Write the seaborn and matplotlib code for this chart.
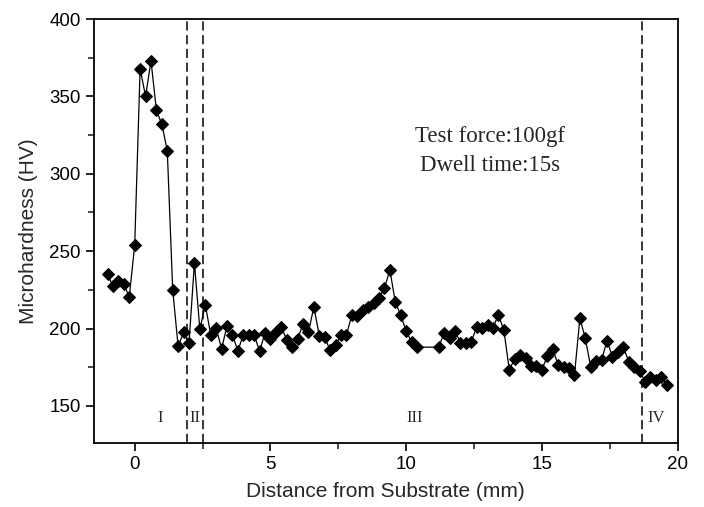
import matplotlib
matplotlib.use("Agg")
import matplotlib.pyplot as plt
from matplotlib.ticker import MultipleLocator
import seaborn as sns
import pandas as pd

distance_mm = [-1.0, -0.8, -0.6, -0.4, -0.2, 0.0, 0.2, 0.4, 0.6, 0.8,
               1.0, 1.2, 1.4, 1.6, 1.8, 2.0, 2.2, 2.4, 2.6, 2.8,
               3.0, 3.2, 3.4, 3.6, 3.8, 4.0, 4.2, 4.4, 4.6, 4.8,
               5.0, 5.2, 5.4, 5.6, 5.8, 6.0, 6.2, 6.4, 6.6, 6.8,
               7.0, 7.2, 7.4, 7.6, 7.8, 8.0, 8.2, 8.4, 8.6, 8.8,
               9.0, 9.2, 9.4, 9.6, 9.8, 10.0, 10.2, 10.4,
               11.2, 11.4, 11.6, 11.8, 12.0, 12.2, 12.4, 12.6, 12.8, 13.0,
               13.2, 13.4, 13.6, 13.8, 14.0, 14.2, 14.4, 14.6, 14.8, 15.0,
               15.2, 15.4, 15.6, 15.8, 16.0, 16.2, 16.4, 16.6, 16.8, 17.0,
               17.2, 17.4, 17.6, 17.8, 18.0, 18.2, 18.4, 18.6, 18.8, 19.0,
               19.2, 19.4, 19.6]
hardness_hv = [235, 227.5, 231, 228.5, 220.5, 254, 368, 350, 373, 341,
               332, 315, 225, 188.5, 197.5, 190.5, 242.5, 199.5, 215.5, 196,
               200.5, 187, 201.5, 196, 185.5, 196, 196, 196, 185.5, 197,
               193, 198, 201, 192.8, 188, 193, 203, 197.5, 214, 195.5,
               194.4, 186, 189.4, 195.9, 195.9, 208.8, 208.4, 212, 213.8, 216.4,
               219.8, 226, 237.9, 217.2, 208.6, 198.5, 191.3, 188,
               188, 197.4, 194.2, 198.3, 191, 191, 191.5, 201.2, 200.6, 202.3,
               200.6, 208.8, 199, 173.3, 180.5, 183, 181.2, 175.8, 175.8, 173.3,
               182.3, 186.8, 176.5, 175, 174.3, 170, 206.7, 193.7, 175, 179.3,
               179.7, 192.2, 181.8, 185, 188.3, 178.6, 175, 172.8, 165.7, 168.9,
               166.8, 168.9, 163.6]

boundaries_mm = [1.93, 2.5, 18.68]
region_labels = ["I", "II", "III", "IV"]
region_label_x = [0.95, 2.2, 10.3, 19.2]
annotation_lines = ["Test force:100gf", "Dwell time:15s"]

sns.set_style("ticks")
plt.rcParams["font.family"] = ["Liberation Sans", "DejaVu Sans"]

df = pd.DataFrame({"x": distance_mm, "y": hardness_hv})

fig = plt.figure(figsize=(7.04, 5.07), dpi=100)
ax = fig.add_axes([0.1335, 0.126, 0.829, 0.8365])

sns.lineplot(data=df, x="x", y="y", ax=ax, color="black", linewidth=0.9,
             marker="D", markersize=6, markeredgecolor="black",
             markerfacecolor="black", sort=False)

for b in boundaries_mm:
    ax.axvline(b, color="black", linestyle=(0, (6, 3)), linewidth=1.1)

for lab, lx in zip(region_labels, region_label_x):
    ax.text(lx, 142, lab, family="Liberation Serif", fontsize=12,
            ha="center", va="center")

ax.text(13.1, 324, annotation_lines[0], family="Liberation Serif",
        fontsize=16.5, ha="center", va="center")
ax.text(13.1, 305.5, annotation_lines[1], family="Liberation Serif",
        fontsize=16.5, ha="center", va="center")

ax.set_xlim(-1.5, 20)
ax.set_ylim(126, 400)
ax.xaxis.set_major_locator(MultipleLocator(5))
ax.xaxis.set_minor_locator(MultipleLocator(2.5))
ax.yaxis.set_major_locator(MultipleLocator(50))
ax.yaxis.set_minor_locator(MultipleLocator(25))
ax.tick_params(which="major", direction="out", length=6, width=1.2,
               labelsize=13.5, colors="black")
ax.tick_params(which="minor", direction="out", length=4, width=1.2)
for s in ax.spines.values():
    s.set_linewidth(1.3)
    s.set_color("black")

ax.set_xlabel("Distance from Substrate (mm)", fontsize=15, labelpad=6)
ax.set_ylabel("Microhardness (HV)", fontsize=15, labelpad=8)

fig.savefig("out.png", dpi=100)
